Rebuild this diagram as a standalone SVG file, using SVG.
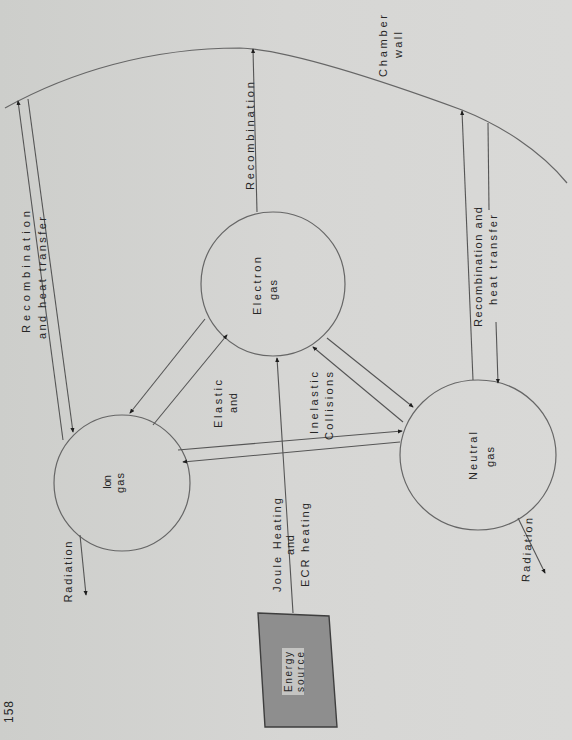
<svg xmlns="http://www.w3.org/2000/svg" width="572" height="740" viewBox="0 0 572 740">
<defs>
<linearGradient id="bg" x1="0" y1="0" x2="1" y2="0">
<stop offset="0" stop-color="#cdcecb"/>
<stop offset="0.5" stop-color="#d6d6d4"/>
<stop offset="1" stop-color="#d9d9d7"/>
</linearGradient>
<marker id="ah" viewBox="0 0 6 6" refX="5" refY="3" markerWidth="5" markerHeight="5" markerUnits="userSpaceOnUse" orient="auto">
<path d="M0,0.5 L6,3 L0,5.5 z" fill="#1e1e1e"/>
</marker>
<style>
.t{font-family:"Liberation Sans",Arial,sans-serif;font-size:11px;fill:#262626;text-anchor:middle;dominant-baseline:central;}
.s{font-size:10px;}
.c{fill:none;stroke:#666;stroke-width:1.2;}
.l{fill:none;stroke:#555;stroke-width:1.1;}
.a{marker-end:url(#ah);}
</style>
</defs>
<rect width="572" height="740" fill="url(#bg)"/>

<g id="chamber-wall">
<path class="c" d="M5,108 C70,72 150,48 240,48 C290,50 380,80 462,110 C500,125 540,150 567,183"/>
<text class="t" transform="translate(383,46) rotate(-90)" textLength="62" lengthAdjust="spacing">Chamber</text>
<text class="t" transform="translate(398,45) rotate(-90)" textLength="26" lengthAdjust="spacing">wall</text>
</g>

<g id="electron-gas">
<circle class="c" cx="273" cy="284" r="72"/>
<text class="t" transform="translate(257,286) rotate(-90)" textLength="58" lengthAdjust="spacing">Electron</text>
<text class="t" transform="translate(273,290) rotate(-90)" textLength="20" lengthAdjust="spacing">gas</text>
</g>

<g id="ion-gas">
<circle class="c" cx="122" cy="483" r="68"/>
<text class="t" transform="translate(107,482) rotate(-90)" textLength="14" lengthAdjust="spacing">Ion</text>
<text class="t" transform="translate(120,483) rotate(-90)" textLength="20" lengthAdjust="spacing">gas</text>
</g>

<g id="neutral-gas">
<ellipse class="c" cx="478" cy="455" rx="78" ry="75"/>
<text class="t" transform="translate(473,456) rotate(-90)" textLength="48" lengthAdjust="spacing">Neutral</text>
<text class="t" transform="translate(490,457) rotate(-90)" textLength="20" lengthAdjust="spacing">gas</text>
</g>

<g id="energy-source">
<polygon points="258,613 329,616 337,727 265,727" fill="#8e8e8e" stroke="#3e3e3e" stroke-width="1.4"/>
<rect x="282" y="648" width="22" height="47" fill="#c4c4c2"/>
<text class="t s" transform="translate(288,672) rotate(-90)" textLength="40" lengthAdjust="spacing">Energy</text>
<text class="t s" transform="translate(300,672) rotate(-90)" textLength="40" lengthAdjust="spacing">source</text>
</g>

<g id="connectors">
<line class="l a" x1="257" y1="212" x2="253" y2="49"/>
<line class="l a" x1="205" y1="319" x2="130" y2="413"/>
<line class="l a" x1="153" y1="425" x2="227" y2="335"/>
<line class="l a" x1="327" y1="338" x2="413" y2="407"/>
<line class="l a" x1="403" y1="422" x2="313" y2="347"/>
<line class="l a" x1="178" y1="450" x2="402" y2="431"/>
<line class="l a" x1="400" y1="442" x2="183" y2="462"/>
<line class="l a" x1="293" y1="613" x2="277" y2="358"/>
<line class="l a" x1="63" y1="440" x2="18" y2="101"/>
<line class="l a" x1="28" y1="99" x2="73" y2="432"/>
<line class="l a" x1="473" y1="380" x2="462" y2="111"/>
<line class="l" x1="488" y1="123" x2="489" y2="210"/>
<line class="l a" x1="496" y1="322" x2="498" y2="383"/>
<line class="l a" x1="80" y1="535" x2="86" y2="595"/>
<line class="l a" x1="518" y1="518" x2="545" y2="573"/>
</g>

<g id="labels">
<text class="t" transform="translate(250,136) rotate(-90)" textLength="108" lengthAdjust="spacing">Recombination</text>
<text class="t" transform="translate(26,272) rotate(-90)" textLength="122" lengthAdjust="spacing">Recombination</text>
<text class="t" transform="translate(42,278) rotate(-90)" textLength="122" lengthAdjust="spacing">and heat transfer</text>
<text class="t" transform="translate(478,267) rotate(-90)" textLength="120" lengthAdjust="spacing">Recombination and</text>
<text class="t" transform="translate(493,260) rotate(-90)" textLength="90" lengthAdjust="spacing">heat transfer</text>
<text class="t" transform="translate(218,404) rotate(-90)" textLength="48" lengthAdjust="spacing">Elastic</text>
<text class="t" transform="translate(233,403) rotate(-90)" textLength="20" lengthAdjust="spacing">and</text>
<text class="t" transform="translate(314,403) rotate(-90)" textLength="62" lengthAdjust="spacing">Inelastic</text>
<text class="t" transform="translate(329,406) rotate(-90)" textLength="68" lengthAdjust="spacing">Collisions</text>
<text class="t" transform="translate(277,545) rotate(-90)" textLength="94" lengthAdjust="spacing">Joule Heating</text>
<text class="t" transform="translate(290,545) rotate(-90)" textLength="20" lengthAdjust="spacing">and</text>
<text class="t" transform="translate(305,545) rotate(-90)" textLength="84" lengthAdjust="spacing">ECR heating</text>
<text class="t" transform="translate(68,572) rotate(-90)" textLength="61" lengthAdjust="spacing">Radiation</text>
<text class="t" transform="translate(527,550) rotate(-87)" textLength="64" lengthAdjust="spacing">Radiation</text>
<text class="t" transform="translate(9,712) rotate(-90)" style="font-size:12px" textLength="22" lengthAdjust="spacing">158</text>
</g>
</svg>
